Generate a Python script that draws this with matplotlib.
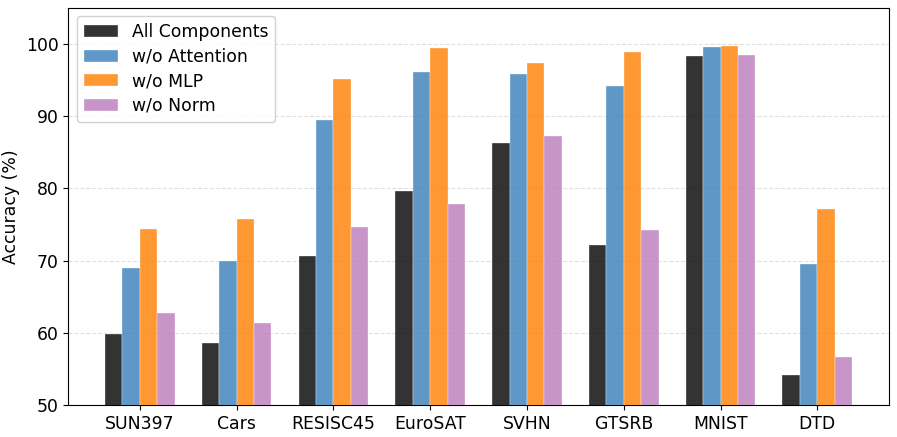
import matplotlib
matplotlib.use("Agg")
import matplotlib.pyplot as plt
import numpy as np

categories = ["SUN397", "Cars", "RESISC45", "EuroSAT", "SVHN", "GTSRB", "MNIST", "DTD"]
all_components = [59.8, 58.6, 70.7, 79.6, 86.3, 72.1, 98.4, 54.2]
wo_attention = [69.0, 69.9, 89.5, 96.1, 95.8, 94.2, 99.6, 69.6]
wo_mlp = [74.4, 75.7, 95.1, 99.5, 97.3, 98.9, 99.7, 77.2]
wo_norm = [62.8, 61.4, 74.6, 77.9, 87.3, 74.2, 98.5, 56.6]

series = [
    ("All Components", all_components, "#000000"),
    ("w/o Attention", wo_attention, "#377eb8"),
    ("w/o MLP", wo_mlp, "#ff7f00"),
    ("w/o Norm", wo_norm, "#bb7bbb"),
]

fs = 12.4
fig = plt.figure(figsize=(8.97, 4.37), dpi=100)
ax = fig.add_axes([0.076, 0.073, 0.915, 0.909])

x = np.arange(len(categories))
w = 0.18
for i, (label, vals, color) in enumerate(series):
    ax.bar(x + (i - 1.5) * w, vals, w, label=label, color=color, alpha=0.8,
           edgecolor="white", linewidth=0.3, zorder=3)

ax.set_ylim(50, 105)
ax.set_xlim(-0.74, 7.74)
ax.set_xticks(x)
ax.set_xticklabels(categories, fontsize=fs)
ax.set_yticks([50, 60, 70, 80, 90, 100])
ax.tick_params(axis="y", labelsize=fs)
ax.set_ylabel("Accuracy (%)", fontsize=fs)
ax.yaxis.grid(True, linestyle="--", color="#cccccc", alpha=0.6, linewidth=0.8, zorder=0)
ax.set_axisbelow(True)
ax.legend(loc="upper left", fontsize=fs, framealpha=0.9, labelspacing=0.38,
          handlelength=2.0)

fig.savefig("out.png", dpi=100)
